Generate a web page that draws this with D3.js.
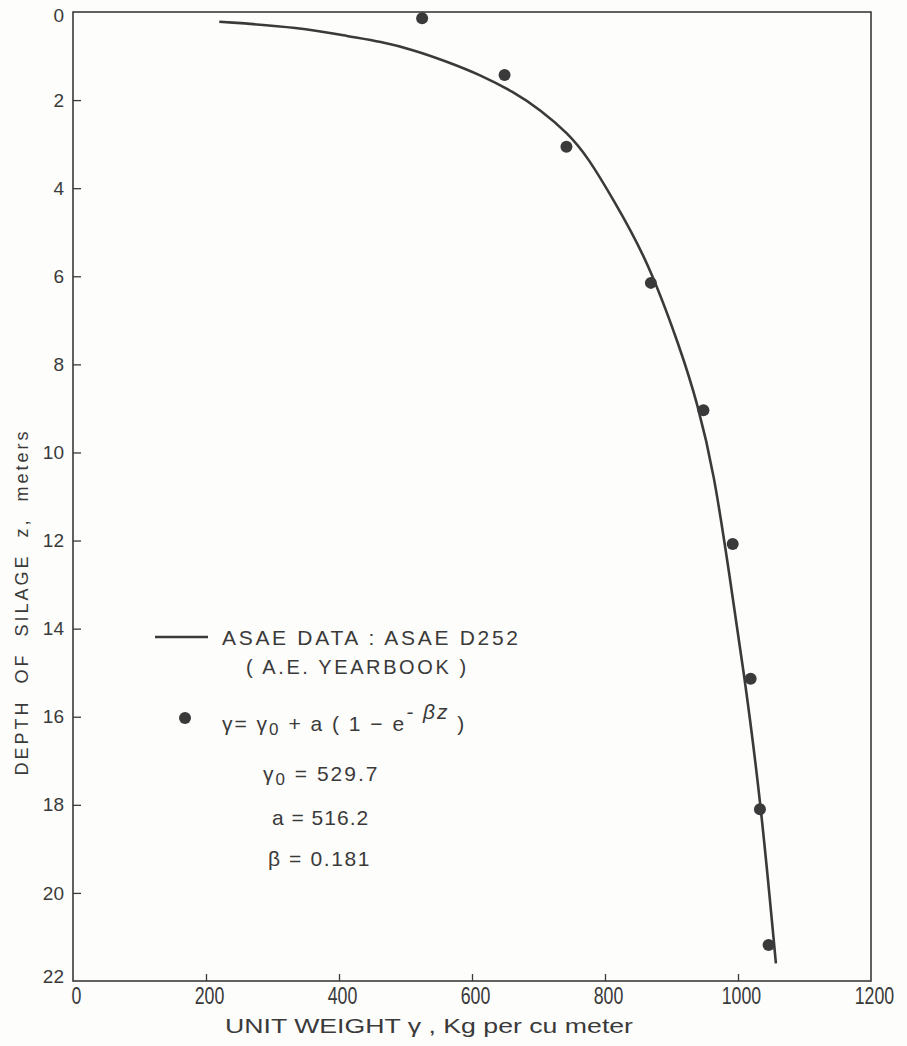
<!DOCTYPE html>
<html>
  <head>
    <meta charset="utf-8" />
    <title>Depth of silage vs unit weight</title>
    <script src="https://d3js.org/d3.v7.min.js"></script>
    <style>
      body {
        margin: 0;
        background: #fdfdfb;
      }
      svg {
        display: block;
        background: #fdfdfb;
      }
      text {
        fill: #3a3a3a;
        font-family: "Liberation Sans", Arial, sans-serif;
      }
    </style>
  </head>
  <body>
    <svg width="907" height="1046"></svg>

    <script>
      // ASAE D252 curve (unit weight kg/m3 vs depth m)
      const curveWeight = [220, 342, 417, 462, 512, 563, 613, 662, 703, 744, 774, 813, 864, 914, 939, 964, 986, 1009, 1034, 1057];
      const curveDepth = [0.22, 0.35, 0.56, 0.67, 0.86, 1.13, 1.43, 1.81, 2.22, 2.75, 3.29, 4.27, 5.63, 7.67, 8.88, 10.47, 12.67, 15.0, 17.89, 21.6];

      // fitted exponential model points
      const pointWeight = [525, 649, 742, 869, 948, 992, 1019, 1033, 1046];
      const pointDepth = [0.14, 1.43, 3.06, 6.15, 9.04, 12.08, 15.14, 18.1, 21.18];

      const xTicks = [0, 200, 400, 600, 800, 1000, 1200];
      const yTicks = [0, 2, 4, 6, 8, 10, 12, 14, 16, 18, 20, 22];

      const ink = "#3a3a3a";
      const svg = d3.select("svg");

      const margin = { top: 12, right: 36, bottom: 65, left: 73 };
      const width = +svg.attr("width");
      const height = +svg.attr("height");
      const innerWidth = width - margin.left - margin.right;
      const innerHeight = height - margin.top - margin.bottom;

      const x = d3.scaleLinear().domain([0, 1200]).range([0, innerWidth]);
      const y = d3.scaleLinear().domain([0, 22]).range([0, innerHeight]);

      const g = svg.append("g")
        .attr("transform", `translate(${margin.left},${margin.top})`);

      // frame
      g.append("rect")
        .attr("width", innerWidth)
        .attr("height", innerHeight)
        .attr("fill", "none")
        .attr("stroke", ink)
        .attr("stroke-width", 1.6);

      // x axis: ticks point up into the plot
      const xAxis = d3.axisBottom(x).tickValues(xTicks).tickSize(-7).tickPadding(6).tickFormat(d3.format("d"));
      const xg = g.append("g").attr("transform", `translate(0,${innerHeight})`).call(xAxis);
      xg.select(".domain").remove();
      xg.selectAll(".tick line").attr("stroke", ink).attr("stroke-width", 1.3)
        .filter(d => d === 0 || d === 1200).remove();
      xg.selectAll(".tick text")
        .attr("font-size", 24)
        .attr("fill", ink)
        .attr("transform", "translate(3,0) scale(0.74,1)");

      // y axis: ticks point right into the plot
      const yAxis = d3.axisLeft(y).tickValues(yTicks).tickSize(-8).tickPadding(9).tickFormat(d3.format("d"));
      const yg = g.append("g").call(yAxis);
      yg.select(".domain").remove();
      yg.selectAll(".tick line").attr("stroke", ink).attr("stroke-width", 1.3)
        .filter(d => d === 0 || d === 22).remove();
      yg.selectAll(".tick text")
        .attr("font-size", 19)
        .attr("fill", ink);
      yg.selectAll(".tick").filter(d => d === 0).select("text")
        .attr("dy", "0.5em");
      yg.selectAll(".tick").filter(d => d === 22).select("text")
        .attr("dy", "0.1em");

      // curve
      const curveData = curveWeight.map((w, i) => ({ w, z: curveDepth[i] }));
      const line = d3.line()
        .x(d => x(d.w))
        .y(d => y(d.z))
        .curve(d3.curveBasis);
      g.append("path")
        .datum(curveData)
        .attr("d", line)
        .attr("fill", "none")
        .attr("stroke", ink)
        .attr("stroke-width", 2.6);

      // model points
      const pointData = pointWeight.map((w, i) => ({ w, z: pointDepth[i] }));
      g.selectAll(".pt")
        .data(pointData)
        .enter().append("circle")
        .attr("class", "pt")
        .attr("cx", d => x(d.w))
        .attr("cy", d => y(d.z))
        .attr("r", 6)
        .attr("fill", ink);

      // axis titles
      svg.append("text")
        .attr("x", 429)
        .attr("y", 1033)
        .attr("text-anchor", "middle")
        .attr("font-size", 20)
        .attr("textLength", 408)
        .attr("lengthAdjust", "spacingAndGlyphs")
        .text("UNIT WEIGHT  γ  ,  Kg  per  cu  meter");

      svg.append("text")
        .attr("transform", "translate(28,602) rotate(-90)")
        .attr("text-anchor", "middle")
        .attr("font-size", 18)
        .style("letter-spacing", "3px")
        .style("word-spacing", "8px")
        .text("DEPTH OF SILAGE z, meters");

      // legend
      const leg = svg.append("g");
      leg.append("line")
        .attr("x1", 155).attr("x2", 208)
        .attr("y1", 637).attr("y2", 637)
        .attr("stroke", ink).attr("stroke-width", 2.4);
      leg.append("text")
        .attr("x", 222).attr("y", 645)
        .attr("font-size", 21)
        .style("letter-spacing", "2.7px")
        .text("ASAE  DATA : ASAE  D252");
      leg.append("text")
        .attr("x", 246).attr("y", 674)
        .attr("font-size", 20)
        .style("letter-spacing", "2.6px")
        .text("( A.E.  YEARBOOK )");

      leg.append("circle")
        .attr("cx", 185).attr("cy", 718)
        .attr("r", 6).attr("fill", ink);

      const eq = leg.append("text")
        .attr("x", 222).attr("y", 731)
        .attr("font-size", 21)
        .style("letter-spacing", "2px");
      eq.append("tspan").text("γ= γ");
      eq.append("tspan").attr("baseline-shift", "-25%").attr("font-size", 17).text("0");
      eq.append("tspan").text(" + a ( 1 − e");
      eq.append("tspan").attr("baseline-shift", "55%").attr("font-size", 21).attr("font-style", "italic").text("- βz");
      eq.append("tspan").text(" )");

      const g0 = leg.append("text")
        .attr("x", 263).attr("y", 781)
        .attr("font-size", 21)
        .style("letter-spacing", "2px");
      g0.append("tspan").text("γ");
      g0.append("tspan").attr("baseline-shift", "-25%").attr("font-size", 17).text("0");
      g0.append("tspan").text(" = 529.7");

      leg.append("text")
        .attr("x", 272).attr("y", 825)
        .attr("font-size", 21)
        .style("letter-spacing", "1px")
        .text("a = 516.2");

      leg.append("text")
        .attr("x", 268).attr("y", 866)
        .attr("font-size", 21)
        .style("letter-spacing", "1.6px")
        .text("β = 0.181");
    </script>
  </body>
</html>
